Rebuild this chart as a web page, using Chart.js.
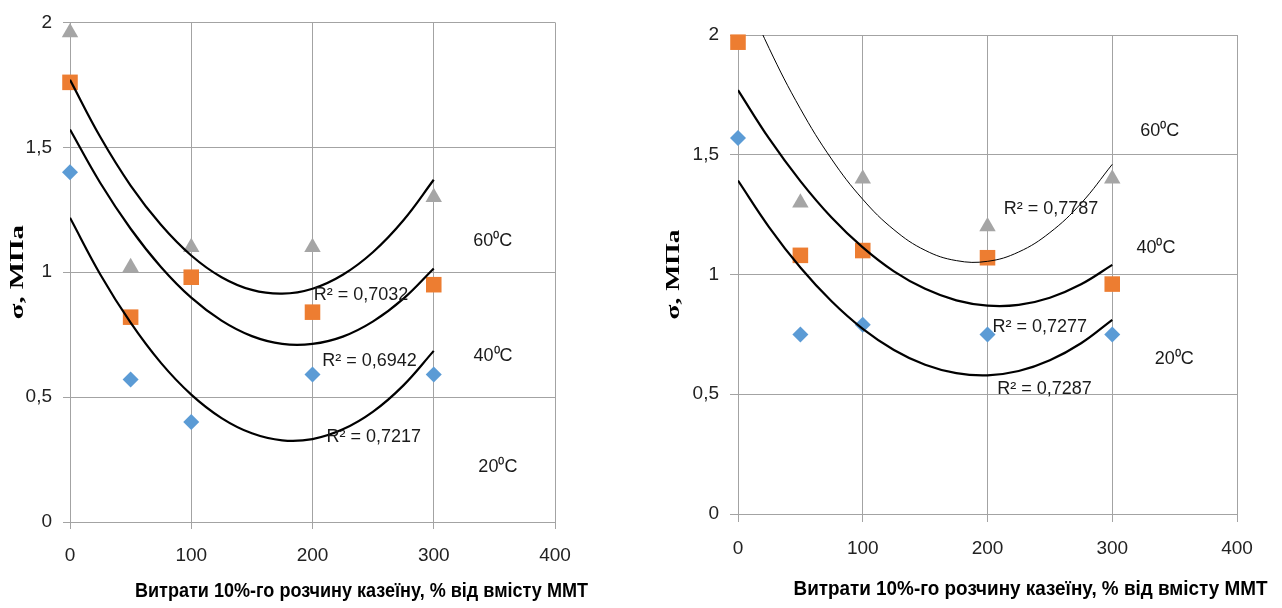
<!DOCTYPE html>
<html>
<head>
<meta charset="utf-8">
<script src="https://cdn.jsdelivr.net/npm/chart.js@4/dist/chart.umd.min.js"></script>
<style>
  html, body { margin: 0; padding: 0; background: #fff; }
  #wrap { position: relative; width: 1282px; height: 608px; }
  #leftBox { position: absolute; left: 0; top: 0; }
  #rightBox { position: absolute; left: 640px; top: 0; }
</style>
</head>
<body>
<div id="wrap">
  <div id="leftBox"><canvas id="leftChart" width="640" height="608"></canvas></div>
  <div id="rightBox"><canvas id="rightChart" width="642" height="608"></canvas></div>
</div>
<script>
// x: витрати казеїну, %
const xValues = [0, 50, 100, 200, 300];

// ліва діаграма
const left20 = [1.40, 0.57, 0.40, 0.59, 0.59];
const left40 = [1.76, 0.82, 0.98, 0.84, 0.95];
const left60 = [1.96, 1.02, 1.10, 1.10, 1.30];

// права діаграма (точка 60°C при 0 за межами графіка)
const right20 = [1.57, 0.75, 0.79, 0.75, 0.75];
const right40 = [1.97, 1.08, 1.10, 1.07, 0.96];
const right60 = [null, 1.30, 1.40, 1.20, 1.40];

// лінії тренду
const trendX = [0, 25, 50, 75, 100, 125, 150, 175, 200, 225, 250, 275, 300];
const leftFit20 = [1.218, 0.991, 0.798, 0.637, 0.510, 0.416, 0.355, 0.327, 0.332, 0.371, 0.442, 0.547, 0.685];
const leftFit40 = [1.571, 1.357, 1.174, 1.021, 0.898, 0.806, 0.744, 0.713, 0.713, 0.742, 0.803, 0.894, 1.015];
const leftFit60 = [1.770, 1.541, 1.347, 1.190, 1.067, 0.980, 0.929, 0.914, 0.934, 0.990, 1.081, 1.208, 1.370];
const rightFit20 = [1.392, 1.197, 1.029, 0.888, 0.773, 0.685, 0.623, 0.588, 0.579, 0.597, 0.642, 0.713, 0.811];
const rightFit40 = [1.770, 1.567, 1.390, 1.238, 1.113, 1.013, 0.940, 0.892, 0.870, 0.873, 0.903, 0.959, 1.040];
const rightFit60 = [2.237, 1.944, 1.692, 1.482, 1.314, 1.187, 1.101, 1.058, 1.055, 1.094, 1.175, 1.297, 1.460];

const seriesNames = ['20⁰C', '40⁰C', '60⁰C'];
const leftR2 = ['0,7217', '0,6942', '0,7032'];
const rightR2 = ['0,7287', '0,7277', '0,7787'];

const xTickLabels = ['0', '100', '200', '300', '400'];
const yTickLabels = ['0', '0,5', '1', '1,5', '2'];

const xTitle = 'Витрати 10%-го розчину казеїну, % від вмісту ММТ';
const yTitle = 'σ, МПа';

const GRID = '#a3a3a3';
const TICK_FONT = { family: 'Liberation Sans, Arial, sans-serif', size: 19 };

function pts(xs, ys) {
    return xs.map((x, i) => ({ x: x, y: ys[i] }));
}

function markerSet(data, color, style, radius, order) {
    return {
        data: pts(xValues, data),
        backgroundColor: color,
        borderColor: color,
        pointStyle: style,
        pointRadius: radius,
        pointHoverRadius: radius,
        borderWidth: 0,
        showLine: false,
        clip: false,
        order: order
    };
}

function trendSet(data, width) {
    return {
        data: pts(trendX, data),
        borderColor: '#000',
        borderWidth: width,
        pointRadius: 0,
        showLine: true,
        tension: 0.4,
        order: 0
    };
}

// текст, стиснутий/розтягнутий до потрібної довжини
function fitText(ctx, text, cx, cy, len, angle) {
    const w = ctx.measureText(text).width;
    ctx.save();
    ctx.translate(cx, cy);
    ctx.rotate(angle);
    ctx.scale(len / w, 1);
    ctx.fillText(text, 0, 0);
    ctx.restore();
}

// підписи R² та температури, в координатах даних; назви осей
const textPlugin = {
    id: 'texts',
    afterDatasetsDraw(chart) {
        const cfg = chart.options.plugins.texts;
        const ctx = chart.ctx;
        const xs = chart.scales.x, ys = chart.scales.y;
        const a = chart.chartArea;
        ctx.save();
        ctx.fillStyle = '#1a1a1a';
        ctx.font = '18px "Liberation Sans", Arial, sans-serif';
        ctx.textAlign = 'left';
        ctx.textBaseline = 'middle';
        cfg.labels.forEach(l => {
            ctx.fillText(l.text, xs.getPixelForValue(l.x), ys.getPixelForValue(l.y));
        });

        ctx.fillStyle = '#000';
        ctx.textAlign = 'center';
        ctx.font = 'bold 20px "Liberation Sans", Arial, sans-serif';
        fitText(ctx, xTitle, (a.left + a.right) / 2 + cfg.titleShift, cfg.titleY, cfg.titleLen, 0);

        ctx.font = 'bold 19px "Liberation Serif", "Times New Roman", serif';
        fitText(ctx, yTitle, cfg.yTitleX, (a.top + a.bottom) / 2, cfg.yTitleLen, -Math.PI / 2);
        ctx.restore();
    }
};

function makeChart(id, sets, fits, thinTop, r2, opts) {
    const ctx = document.getElementById(id).getContext('2d');
    return new Chart(ctx, {
        type: 'scatter',
        data: {
            datasets: [
                trendSet(fits[0], 2.2),
                trendSet(fits[1], 2.2),
                trendSet(fits[2], thinTop ? 1 : 2.2),
                markerSet(sets[2], '#a5a5a5', 'triangle', 9.5, 1),
                markerSet(sets[1], '#ed7d31', 'rect', 11, 2),
                markerSet(sets[0], '#5b9bd5', 'rectRot', 8, 3)
            ]
        },
        options: {
            responsive: false,
            animation: false,
            layout: { padding: opts.padding },
            plugins: {
                legend: { display: false },
                tooltip: { enabled: false },
                texts: {
                    labels: [
                        { text: 'R² = ' + r2[2], x: opts.pos.r60[0], y: opts.pos.r60[1] },
                        { text: 'R² = ' + r2[1], x: opts.pos.r40[0], y: opts.pos.r40[1] },
                        { text: 'R² = ' + r2[0], x: opts.pos.r20[0], y: opts.pos.r20[1] },
                        { text: seriesNames[2], x: opts.pos.t60[0], y: opts.pos.t60[1] },
                        { text: seriesNames[1], x: opts.pos.t40[0], y: opts.pos.t40[1] },
                        { text: seriesNames[0], x: opts.pos.t20[0], y: opts.pos.t20[1] }
                    ],
                    titleShift: opts.titleShift,
                    titleY: opts.titleY,
                    titleLen: opts.titleLen,
                    yTitleX: opts.yTitleX,
                    yTitleLen: opts.yTitleLen
                }
            },
            scales: {
                x: {
                    type: 'linear',
                    min: 0,
                    max: 400,
                    afterFit: s => { s.height = opts.xAxisH; },
                    grid: { color: GRID, tickLength: opts.tick, tickColor: GRID },
                    border: { color: GRID },
                    ticks: {
                        stepSize: 100,
                        padding: opts.xPad,
                        color: '#222',
                        font: TICK_FONT,
                        maxRotation: 0,
                        callback: v => xTickLabels[Math.round(v / 100)]
                    }
                },
                y: {
                    min: 0,
                    max: 2,
                    afterFit: s => { s.width = opts.yAxisW; },
                    grid: { color: GRID, tickLength: opts.tick, tickColor: GRID },
                    border: { color: GRID },
                    ticks: {
                        stepSize: 0.5,
                        padding: 11,
                        color: '#222',
                        font: TICK_FONT,
                        callback: v => yTickLabels[Math.round(v / 0.5)]
                    }
                }
            }
        },
        plugins: [textPlugin]
    });
}

makeChart('leftChart', [left20, left40, left60], [leftFit20, leftFit40, leftFit60], false, leftR2, {
    padding: { left: 0, right: 85, top: 18, bottom: 0 },
    yAxisW: 70, xAxisH: 86, tick: 7, xPad: 15,
    titleShift: 49, titleY: 591, titleLen: 453,
    yTitleX: 18, yTitleLen: 94,
    pos: {
        r60: [201, 0.909], r40: [208, 0.643], r20: [211.5, 0.339],
        t60: [332.5, 1.124], t40: [332.8, 0.663], t20: [336.8, 0.219]
    }
});

makeChart('rightChart', [right20, right40, right60], [rightFit20, rightFit40, rightFit60], true, rightR2, {
    padding: { left: 0, right: 45, top: 35, bottom: 0 },
    yAxisW: 98, xAxisH: 94, tick: 8, xPad: 15,
    titleShift: 43, titleY: 589, titleLen: 474,
    yTitleX: 34, yTitleLen: 90,
    pos: {
        r60: [213, 1.273], r40: [204, 0.782], r20: [207.8, 0.521],
        t60: [322.5, 1.60], t40: [319.4, 1.109], t20: [334, 0.646]
    }
});
</script>
</body>
</html>
